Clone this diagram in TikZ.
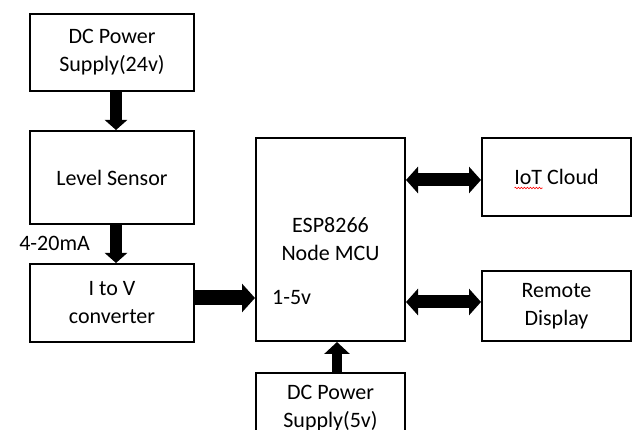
\documentclass[tikz,border=0pt]{standalone}
\usepackage{fontspec}
\setmainfont{Carlito}
\usetikzlibrary{arrows.meta, positioning, calc, decorations.pathmorphing}
\tikzset{
  blk/.style={rectangle, draw=black, line width=2pt, align=center,
              minimum width=164pt, inner sep=2pt},
  blkR/.style={blk, minimum width=149pt},
  arrowF/.style={-{Triangle[width=22pt, length=10pt]}, line width=12pt},
  arrowW/.style={-{Triangle[width=28pt, length=13pt]}, line width=15pt},
  arrowS/.style={-{Triangle[width=25pt, length=12pt]}, line width=10pt},
  arrowB/.style={{Triangle[width=26pt, length=12pt]}-{Triangle[width=26pt, length=12pt]},
                 line width=13pt},
  lbl/.style={inner sep=0pt},
}

\begin{document}
\begin{tikzpicture}[x=1pt, y=1pt, node distance=38pt, font=\fontsize{22}{28}\selectfont]
    \useasboundingbox (0,0) rectangle (633,-430);
    \clip (0,0) rectangle (633,-430);
    \fill[white] (0,0) rectangle (633,-430);
    % left column
    \node[blk, minimum height=77pt] (dc24) at (112,-52.5) {DC Power\\Supply(24v)};
    \node[blk, minimum height=93pt, below=of dc24] (lvl) {Level Sensor};
    \node[blk, minimum height=78pt, below=of lvl] (itov) {I to V\\converter};
    % controller and outputs
    \node[blkR, minimum height=203pt] (esp) at (330.5,-239.5) {ESP8266\\Node MCU};
    \node[blkR, minimum height=78pt, right=75pt of esp.north east, anchor=north west] (iot) {IoT Cloud};
    \node[blkR, minimum height=70pt, below=53pt of iot] (rem) {Remote\\Display};
    \node[blkR, minimum height=70pt, below=30pt of esp] (dc5) {DC Power\\Supply(5v)};
    \node[lbl, anchor=base east] (ma) at ([xshift=-22pt, yshift=-26pt]lvl.south) {4-20mA};
    \node[lbl, anchor=base west] (vin) at ([xshift=17pt, yshift=-65.5pt]esp.west) {1-5v};
    \draw[red, line width=0.6pt, decorate, decoration={snake, amplitude=0.8pt, segment length=3pt}]
      ($(iot.center)+(-42,-11)$) -- ($(iot.center)+(-14,-11)$);
    % arrows
    \draw[arrowF] ([xshift=4pt]dc24.south) -- ([xshift=4pt]lvl.north);
    \draw[arrowF] ([xshift=4pt]lvl.south) -- ([xshift=4pt]itov.north);
    \draw[arrowW] ([yshift=5pt]itov.east) -- ([yshift=5pt]itov.east -| esp.west);
    \draw[arrowS] ([xshift=6.5pt]dc5.north) -- ([xshift=6.5pt]esp.south);
    \draw[arrowB] ([yshift=-3pt]iot.west -| esp.east) -- ([yshift=-3pt]iot.west);
    \draw[arrowB] ([yshift=4pt]rem.west -| esp.east) -- ([yshift=4pt]rem.west);
\end{tikzpicture}
\end{document}
